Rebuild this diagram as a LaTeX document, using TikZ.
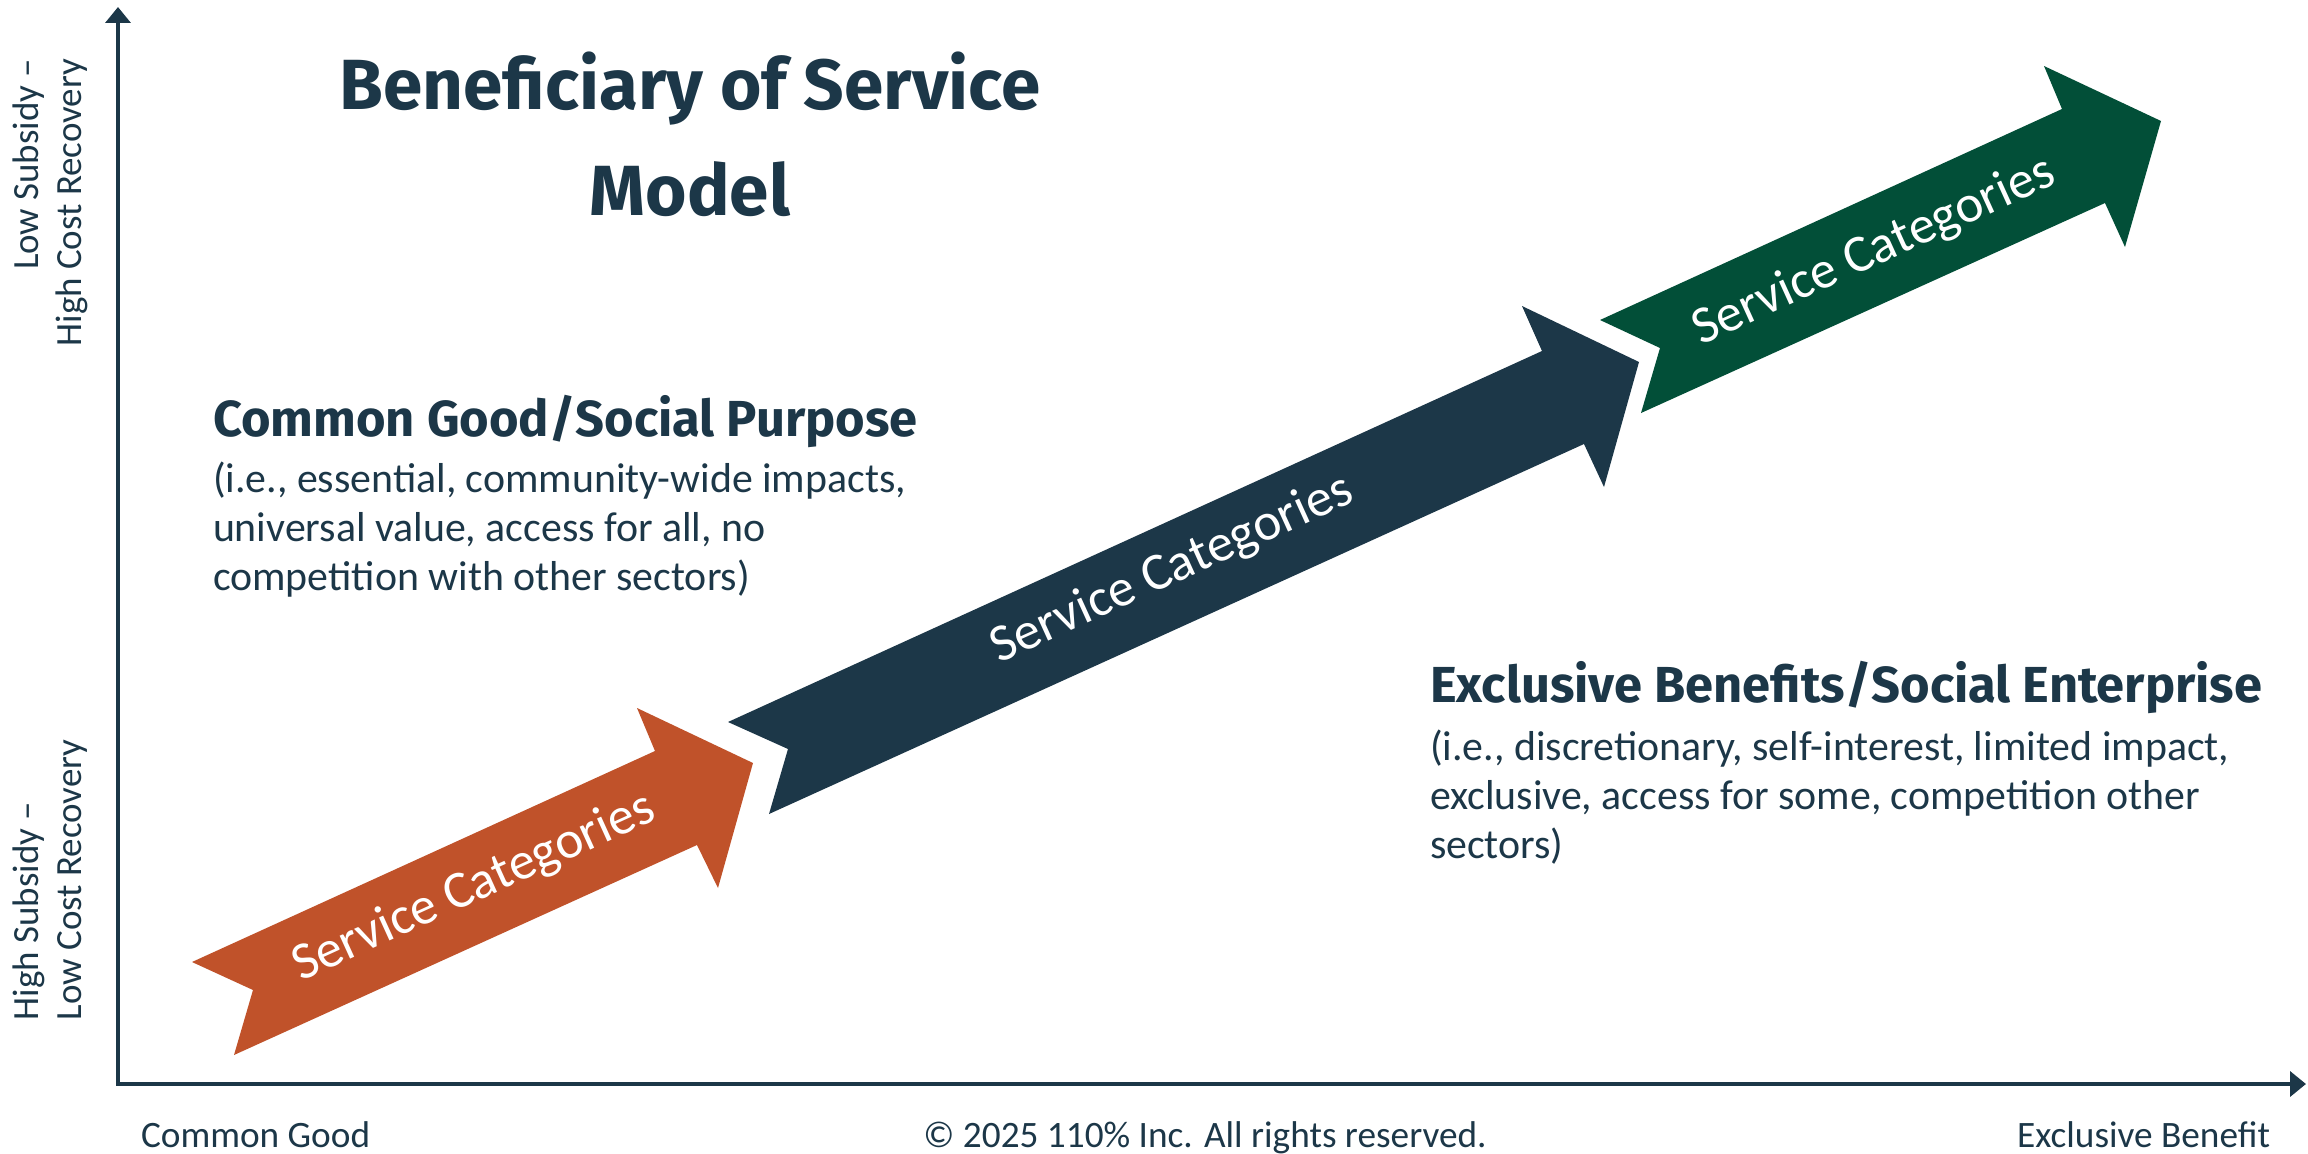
\documentclass[tikz,border=0pt]{standalone}
\usepackage{fontspec}
\usepackage{tikz}
\usetikzlibrary{arrows.meta}
\setmainfont{Carlito}
\newfontfamily\headfont{Fira Sans}
\definecolor{navy}{HTML}{1C3748}
\definecolor{rust}{HTML}{C0522A}
\definecolor{pine}{HTML}{024F38}

\begin{document}
\begin{tikzpicture}[x=0.01cm, y=-0.01cm,
    every node/.style={inner sep=0pt, outer sep=0pt, text=navy},
    axis/.style={draw=navy, line width=1.4pt, {Triangle[length=4.5pt, width=7pt]}-{Triangle[length=4.5pt, width=7pt]}},
    titletext/.style={font=\headfont\bfseries\fontsize{20.2}{30.2}\selectfont, align=center},
    headtext/.style={font=\headfont\bfseries\fontsize{14.4}{17}\selectfont, anchor=base west},
    bodytext/.style={font=\fontsize{11.9}{13.9}\selectfont, align=left, anchor=north west},
    axislabel/.style={font=\fontsize{10.5}{12.2}\selectfont, rotate=90},
    footlabel/.style={font=\fontsize{10.6}{12}\selectfont},
    catlabel/.style={font=\fontsize{15}{18}\selectfont, text=white, rotate=24.5}]
    \useasboundingbox (0,0) rectangle (2308,1154);
    \fill[white] (0,0) rectangle (2308,1154);

    % Axes
    \coordinate (ytip) at (118,7);
    \coordinate (origin) at (118,1084);
    \coordinate (xtip) at (2306,1084);
    \draw[axis] (ytip) -- (origin) -- (xtip);

    \node[axislabel, align=right, anchor=east] (lowsub) at (50,59) {Low Subsidy --\\High Cost Recovery};
    \node[axislabel, align=left, anchor=west] (highsub) at (50,1020) {High Subsidy --\\Low Cost Recovery};
    \node[footlabel, anchor=base west] (common) at (141,1147) {Common Good};
    \node[footlabel, anchor=base] (copy) at (1205,1147) {\textcopyright{} 2025 110\% Inc. All rights reserved.};
    \node[footlabel, anchor=base east] (exclusive) at (2270,1147) {Exclusive Benefit};

    % Arrows
    \fill[rust] (192,962) -- (253,990) -- (234,1055) -- (697,845) -- (718,888) -- (753,763) -- (637,708) -- (655,751) -- cycle;
    \fill[navy] (728,722) -- (788,749) -- (769,814) -- (1584,444) -- (1604,487) -- (1639,362) -- (1522,306) -- (1542,351) -- cycle;
    \fill[pine] (1600,320) -- (1660,348) -- (1641,413) -- (2105,203) -- (2125,247) -- (2161,121) -- (2044,66) -- (2062,109) -- cycle;
    \node[catlabel] (catone) at (474,888) {Service Categories};
    \node[catlabel] (cattwo) at (1172,570) {Service Categories};
    \node[catlabel] (catthree) at (1874,252) {Service Categories};

    % Texts
    \node[titletext] (title) at (690,134) {Beneficiary of Service\\Model};
    \node[headtext] (goodhead) at (213,436) {Common Good/Social Purpose};
    \node[bodytext] (goodbody) at (213,462) {(i.e., essential, community-wide impacts,\\universal value, access for all, no\\competition with other sectors)};
    \node[headtext] (exclhead) at (1430,702) {Exclusive Benefits/Social Enterprise};
    \node[bodytext] (exclbody) at (1430,730) {(i.e., discretionary, self-interest, limited impact,\\exclusive, access for some, competition other\\sectors)};

\end{tikzpicture}
\end{document}
